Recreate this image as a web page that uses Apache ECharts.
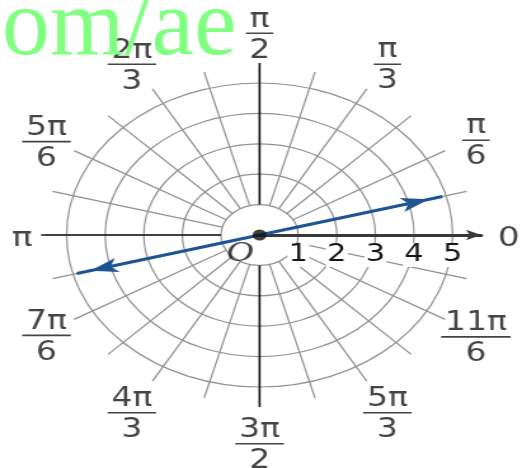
<!DOCTYPE html>
<html>
<head>
<meta charset="utf-8">
<script src="https://cdn.jsdelivr.net/npm/echarts@6/dist/echarts.min.js"></script>
<style>
  html, body { margin: 0; padding: 0; background: #fff; overflow: hidden; }
  /* the source picture is stretched sideways, so the round chart is widened by css */
  #chart { width: 419px; height: 468px; transform: scaleX(1.27); transform-origin: 0 0; }
</style>
</head>
<body>
<div id="chart"></div>
<script>
const stretch = 1.27

const rings = [1, 2, 3, 4, 5]
const spokeStep = 15
const angleTicks = [0, 30, 60, 90, 120, 150, 180, 210, 240, 270, 300, 330]
const angleNum = ['0', 'π', 'π', 'π', '2π', '5π', 'π', '7π', '4π', '3π', '5π', '11π']
const angleDen = ['', '6', '3', '2', '3', '6', '', '6', '3', '2', '3', '6']
const vectorR = [4.9, 4.9]
const vectorAngle = [195, 15]

const cx = 204.4
const cy = 235
const unit = 30.4
const center = [cx, cy]
const gray = '#929292'
const ink = '#151515'
const blue = '#1d5592'
const font = 'DejaVu Sans'

const hidden = {
  axisLine: { show: false },
  axisTick: { show: false },
  axisLabel: { show: false },
  splitLine: { show: false }
}

function angleAxisOf(index, interval, splitLine, z) {
  return Object.assign({
    polarIndex: index,
    type: 'value',
    min: 0,
    max: 360,
    interval: interval,
    startAngle: 0,
    clockwise: false,
    z: z
  }, hidden, splitLine ? { splitLine: splitLine } : {})
}

// arrow heads sit with their tip on the end point
const headLen = 22
const vectorData = []
vectorData.push(arrowPoint(0))
vectorData.push({ value: [0, 0], symbol: 'none' })
vectorData.push(arrowPoint(1))

function arrowPoint(i) {
  const a = vectorAngle[i] * Math.PI / 180
  return {
    value: [vectorR[i], vectorAngle[i]],
    symbol: 'arrow',
    symbolSize: [11, headLen],
    symbolRotate: vectorAngle[i] - 90,
    symbolOffset: [-headLen / 2 * Math.cos(a), headLen / 2 * Math.sin(a)]
  }
}

// labels sit a little further out at top and bottom, a little closer on the left
function labelRadius(deg) {
  const s = Math.sin(deg * Math.PI / 180)
  const c = Math.cos(deg * Math.PI / 180)
  return 6.45 + 0.3 * Math.pow(s, 4) - (c < 0 ? 0.3 * Math.pow(c, 8) : 0)
}

const labelData = angleTicks.map(function(deg, i) {
  return { value: [labelRadius(deg), deg], idx: i }
})

function angleText(i) {
  if (!angleDen[i]) return '{s|' + angleNum[i] + '}'
  return '{n|' + angleNum[i] + '}\n{hr|}\n{d|' + angleDen[i] + '}'
}

const chart = echarts.init(document.getElementById('chart'))
chart.setOption({
  backgroundColor: '#fff',
  animation: false,
  polar: [
    { center: center, radius: unit * 5 },
    { center: center, radius: [unit, unit * 5.55] },
    { center: center, radius: [unit, unit * 5.66] },
    { center: center, radius: unit * 5.74 }
  ],
  angleAxis: [
    angleAxisOf(0, 90, null, 1),
    angleAxisOf(1, spokeStep, { show: true, lineStyle: { color: gray, width: 1.2 } }, 1),
    angleAxisOf(2, 90, { show: true, lineStyle: { color: ink, width: 1.6 } }, 2),
    angleAxisOf(3, 90, null, 3)
  ],
  radiusAxis: [
    {
      polarIndex: 0,
      type: 'value',
      min: 0,
      max: 5,
      interval: 1,
      z: 1,
      axisLine: { show: false },
      axisTick: { show: false },
      axisLabel: { show: false },
      splitLine: { show: true, lineStyle: { color: gray, width: 1.2 } }
    },
    Object.assign({ polarIndex: 1, type: 'value', min: 0, max: 5 }, hidden),
    Object.assign({ polarIndex: 2, type: 'value', min: 0, max: 5 }, hidden),
    {
      polarIndex: 3,
      type: 'value',
      min: 0,
      max: 5.74,
      interval: 1,
      z: 3,
      axisLine: {
        show: true,
        symbol: ['none', 'arrow'],
        symbolSize: [8, 12],
        lineStyle: { color: '#383838', width: 3 }
      },
      axisTick: { show: false },
      splitLine: { show: false },
      axisLabel: {
        show: true,
        margin: -8,
        verticalAlign: 'top',
        fontSize: 24,
        fontFamily: font,
        color: ink,
        backgroundColor: '#fff',
        padding: [0, 1],
        formatter: function(v) {
          return rings.indexOf(v) >= 0 ? String(v) : ''
        }
      }
    }
  ],
  graphic: [{
    type: 'text',
    x: 2 / stretch,
    y: 29,
    scaleX: 1 / stretch,
    z: 100,
    style: {
      text: 'om/ae',
      font: '96px "Liberation Serif"',
      fill: '#80ff80',
      verticalAlign: 'middle'
    }
  }],
  series: [
    {
      type: 'line',
      coordinateSystem: 'polar',
      polarIndex: 0,
      data: vectorData,
      clip: false,
      z: 5,
      lineStyle: { color: blue, width: 3 },
      itemStyle: { color: blue }
    },
    {
      type: 'scatter',
      coordinateSystem: 'polar',
      polarIndex: 0,
      data: [[0, 0]],
      symbolSize: 11,
      clip: false,
      z: 6,
      itemStyle: { color: '#111' },
      label: {
        show: true,
        position: 'inside',
        offset: [-15.5, 18],
        formatter: 'O',
        fontFamily: 'Liberation Serif',
        fontStyle: 'italic',
        fontSize: 30,
        color: ink
      }
    },
    {
      type: 'scatter',
      coordinateSystem: 'polar',
      polarIndex: 0,
      data: labelData,
      symbolSize: 0,
      clip: false,
      z: 6,
      label: {
        show: true,
        position: 'inside',
        offset: [0, 4],
        formatter: function(p) {
          return angleText(p.data.idx)
        },
        rich: {
          n: { fontSize: 26, lineHeight: 27, fontFamily: font, color: ink, align: 'center', padding: [0, 3] },
          hr: { height: 0, width: '100%', align: 'left', borderColor: ink, borderWidth: 1.6 },
          d: { fontSize: 26, lineHeight: 28, fontFamily: font, color: ink, align: 'center', padding: [7, 0, 0, 0] },
          s: { fontSize: 27, fontFamily: font, color: ink }
        }
      }
    }
  ]
})
</script>
</body>
</html>
